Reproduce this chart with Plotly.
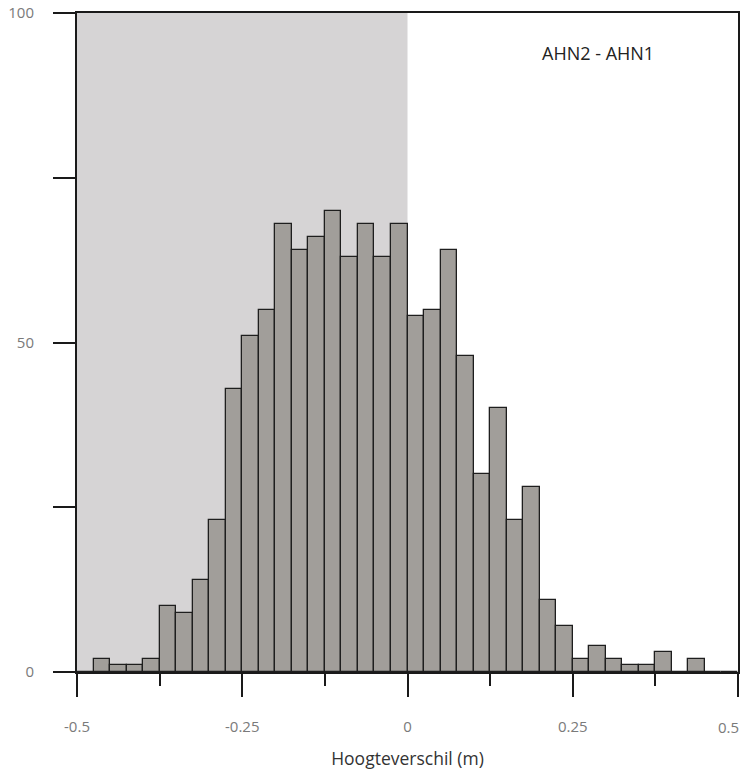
import plotly.graph_objects as go

# Histogram bins (left edges, m) and counts
bin_left = [-0.5, -0.475, -0.45, -0.425, -0.4, -0.375, -0.35, -0.325, -0.3, -0.275,
            -0.25, -0.225, -0.2, -0.175, -0.15, -0.125, -0.1, -0.075, -0.05, -0.025,
            0.0, 0.025, 0.05, 0.075, 0.1, 0.125, 0.15, 0.175, 0.2, 0.225,
            0.25, 0.275, 0.3, 0.325, 0.35, 0.375, 0.4, 0.425, 0.45, 0.475]
counts = [0, 2, 1, 1, 2, 10, 9, 14, 23, 43,
          51, 55, 68, 64, 66, 70, 63, 68, 63, 68,
          54, 55, 64, 48, 30, 40, 23, 28, 11, 7,
          2, 4, 2, 1, 1, 3, 0, 2, 0, 0]
bin_width = 0.025

x_tickvals = [-0.5, -0.25, 0, 0.25, 0.5]
x_ticktext = ["-0.5", "-0.25", "0", "0.25", ""]
x_last_label = "0.5"
y_tickvals = [0, 25, 50, 75, 100]
y_ticktext = ["0", "", "50", "", "100"]
shade_range = [-0.5, 0]
label = "AHN2 - AHN1"
x_title = "Hoogteverschil (m)"

centers = [b + bin_width / 2 for b in bin_left]

fig = go.Figure()
fig.add_trace(go.Bar(
    x=centers, y=counts, width=[bin_width] * len(centers),
    marker=dict(color="#a19e9a", line=dict(color="#1e1e1e", width=1.3)),
    showlegend=False, hoverinfo="x+y",
))

fig.add_shape(type="rect", xref="x", yref="y",
              x0=shade_range[0], x1=shade_range[1], y0=0, y1=100,
              fillcolor="#d6d4d5", line=dict(width=0), layer="below")

fig.add_annotation(x=0.288, y=94, xref="x", yref="y", text=label, showarrow=False,
                   font=dict(family="Open Sans", size=18, color="#222222"))

axis_line = "#1a1a1a"
tick_font = dict(family="Open Sans", size=15, color="#7a7a7a")

# last x tick label, right-aligned so it stays inside the page
fig.add_annotation(x=x_tickvals[-1], y=-0.0835, xref="x", yref="paper",
                   text=x_last_label, showarrow=False, xanchor="right",
                   yanchor="middle", xshift=3, font=tick_font)

fig.update_layout(
    width=746, height=778,
    margin=dict(l=77, r=8, t=13, b=106),
    paper_bgcolor="white", plot_bgcolor="white",
    bargap=0,
    font=dict(family="Open Sans", size=15, color="#7a7a7a"),
    xaxis=dict(
        range=[-0.5, 0.5], showgrid=False, zeroline=False, automargin=False,
        showline=True, linecolor=axis_line, linewidth=2, mirror=True,
        tickmode="array", tickvals=x_tickvals, ticktext=x_ticktext,
        ticks="outside", ticklen=23, tickwidth=2, tickcolor=axis_line,
        ticklabelstandoff=17, ticklabeloverflow="allow",
        minor=dict(dtick=0.125, tick0=-0.5, ticks="outside", ticklen=12,
                   tickwidth=2, tickcolor=axis_line, showgrid=False),
        tickfont=tick_font,
        title=dict(text=x_title, standoff=18,
                   font=dict(family="Open Sans", size=17.5, color="#333333")),
    ),
    yaxis=dict(
        range=[0, 100], showgrid=False, zeroline=False, automargin=False,
        showline=True, linecolor=axis_line, linewidth=2, mirror=True,
        tickmode="array", tickvals=y_tickvals, ticktext=y_ticktext,
        ticks="outside", ticklen=22, tickwidth=2, tickcolor=axis_line,
        ticklabelstandoff=16, ticklabeloverflow="allow",
        tickfont=tick_font,
    ),
)

fig.write_html("out.html", config={"displayModeBar": False},
               post_script="document.body.style.margin='0';")
